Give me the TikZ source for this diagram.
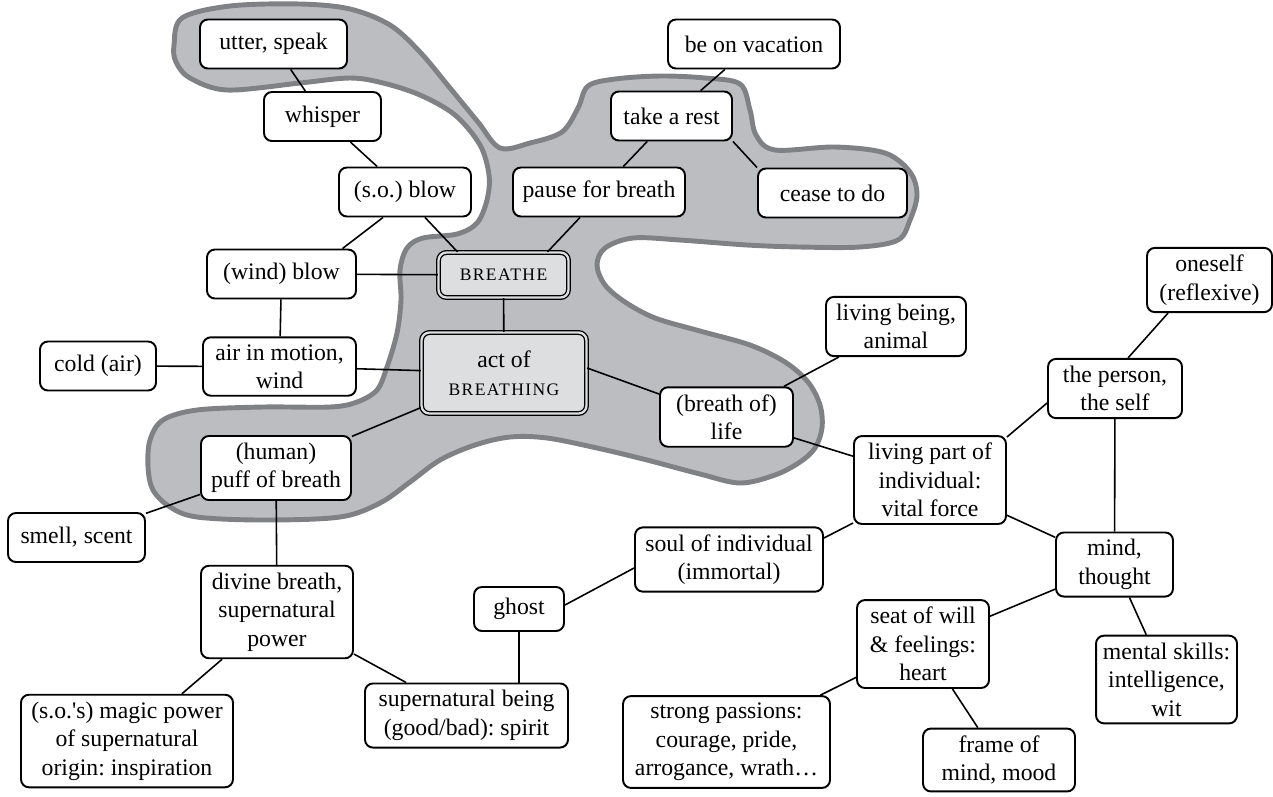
\documentclass[tikz,border=0pt]{standalone}
\usepackage{fontspec}
\setmainfont{Liberation Serif}
\usetikzlibrary{calc}
\definecolor{blobfill}{RGB}{188,189,193}
\definecolor{blobline}{RGB}{128,129,132}
\definecolor{corefill}{RGB}{221,222,224}
\newcommand\hw[1]{{\fontsize{10}{16}\selectfont\addfontfeature{LetterSpace=8}#1}}
\frenchspacing

\begin{document}
\begin{tikzpicture}[x=0.02cm, y=-0.02cm,
    font=\fontsize{13.5}{16.2}\selectfont,
    sense/.style={draw, fill=white, rounded corners=4.5pt, line width=1.1pt,
      align=center, inner xsep=3pt, inner ysep=4pt, minimum height=0.98cm},
    core/.style={sense, fill=corefill, line width=0.75pt, double=corefill,
      double distance=1.3pt, minimum height=0.9cm},
    link/.style={line width=0.9pt}]
      \useasboundingbox (0,0) rectangle (1273,796);

      \draw [blobline, fill=blobfill, line width=2.8pt] plot [smooth cycle, tension=0.55] coordinates {
        (174,45) (182,18) (230,6) (300,4) (350,9) (390,25) (420,52) (450,88)
        (478,122) (500,148) (530,143) (562,132) (578,108) (588,86) (615,79)
        (660,76) (705,78) (740,84) (750,110) (756,135) (775,150) (835,147)
        (885,153) (910,172) (917,195) (910,220) (898,240) (860,247) (800,247)
        (747,245) (680,240) (633,238) (605,248) (597,265) (605,285) (625,302)
        (655,318) (700,331) (750,345) (785,362) (808,382) (820,405) (822,428)
        (815,448) (800,462) (775,475) (740,483) (700,474) (647,460) (597,448)
        (547,438) (510,437) (475,445) (440,460) (410,482) (380,503) (340,517)
        (263,520) (197,517) (170,507) (153,490) (148,467) (150,440) (163,420)
        (197,410) (263,407) (330,407) (357,402) (377,390) (387,367) (397,333)
        (401,300) (400,270) (407,248) (423,238) (457,234) (477,223) (487,200)
        (489,175) (480,145) (455,115) (420,95) (383,83) (350,78) (300,83)
        (227,90) (190,78) (176,62)};

      \node [sense, minimum width=2.94cm] (utter) at (273.5,44) {utter, speak};
      \node [sense, minimum width=2.34cm] (whisper) at (322.5,116.5) {whisper};
      \node [sense, minimum width=2.64cm] (soblow) at (405,192) {(s.o.) blow};
      \node [sense, minimum width=2.98cm] (windblow) at (281.5,274) {(wind) blow};
      \node [core, minimum width=2.6cm] (breathe) at (503.5,275) {\hw{BREATHE}};
      \node [sense, minimum width=3.44cm] (pause) at (599,192) {pause for breath};
      \node [sense, minimum width=2.42cm] (rest) at (671.5,116) {take a rest};
      \node [sense, minimum width=3.44cm] (vacation) at (754,44) {be on vacation};
      \node [sense, minimum width=2.98cm] (cease) at (832.5,193) {cease to do};
      \node [core, minimum width=3.3cm, minimum height=1.62cm] (act) at (504,373) {act of\\\hw{BREATHING}};
      \node [sense, minimum width=3.06cm] (air) at (279.5,366.5) {air in motion,\\wind};
      \node [sense, minimum width=2.32cm] (cold) at (98,366) {cold (air)};
      \node [sense, minimum width=3.0cm] (puff) at (276,468) {(human)\\puff of breath};
      \node [sense, minimum width=2.74cm] (smell) at (76.5,537.5) {smell, scent};
      \node [sense, minimum width=3.04cm] (divine) at (277,612) {divine breath,\\supernatural\\power};
      \node [sense, minimum width=4.24cm] (magic) at (127,741) {(s.o.\textquotesingle s) magic power\\of supernatural\\origin: inspiration};
      \node [sense, minimum width=4.06cm] (superbeing) at (466.5,715.5) {supernatural being\\(good/bad): spirit};
      \node [sense, minimum width=1.8cm, minimum height=0.88cm] (ghost) at (519,609) {ghost};
      \node [sense, minimum width=3.76cm] (soul) at (729,559.5) {soul of individual\\(immortal)};
      \node [sense, minimum width=2.66cm] (life) at (726.5,417) {(breath of)\\life};
      \node [sense, minimum width=2.8cm] (livingbeing) at (896,326.5) {living being,\\animal};
      \node [sense, minimum width=3.04cm] (livingpart) at (930,480) {living part of\\individual:\\vital force};
      \node [sense, minimum width=2.68cm] (person) at (1115,388.5) {the person,\\the self};
      \node [sense, minimum width=2.5cm] (oneself) at (1209.5,280) {oneself\\(reflexive)};
      \node [sense, minimum width=2.34cm] (mind) at (1114.5,564.5) {mind,\\thought};
      \node [sense, minimum width=2.64cm] (seat) at (923,644) {seat of will\\\& feelings:\\heart};
      \node [sense, minimum width=2.82cm] (mental) at (1166.5,679.5) {mental skills:\\intelligence,\\wit};
      \node [sense, minimum width=4.14cm] (passions) at (726.5,742) {strong passions:\\courage, pride,\\arrogance, wrath…};
      \node [sense, minimum width=3.04cm] (frame) at (999,760) {frame of\\mind, mood};

      \draw [link] (utter) -- (whisper);
      \draw [link] (whisper) -- (soblow);
      \draw [link] ($(soblow.south)+(-22,0)$) -- ($(windblow.north)+(61,0)$);
      \draw [link] ($(soblow.south)+(20,0)$) -- ($(breathe.north)+(-46,0)$);
      \draw [link] ($(pause.south)+(-19,0)$) -- ($(breathe.north)+(44,0)$);
      \draw [link] (rest) -- (pause);
      \draw [link] (rest) -- (vacation);
      \draw [link] (rest.south east) -- (cease.north west);
      \draw [link] (windblow) -- (breathe);
      \draw [link] (windblow) -- (air);
      \draw [link] (cold) -- (air);
      \draw [link] (air) -- (act);
      \draw [link] (breathe) -- (act);
      \draw [link] (act) -- (puff);
      \draw [link] ($(act.east)+(0,-5)$) -- ($(life.west)+(0,-23)$);
      \draw [link] (life) -- (livingbeing);
      \draw [link] (life) -- (livingpart);
      \draw [link] ($(livingpart.east)+(0,-43)$) -- ($(person.west)+(0,14.5)$);
      \draw [link] ($(person.north)+(13,0)$) -- ($(oneself.south)+(-41.5,0)$);
      \draw [link] (person) -- (mind);
      \draw [link] (livingpart) -- (mind);
      \draw [link] ($(livingpart.west)+(0,43)$) -- ($(soul.east)+(0,-21.5)$);
      \draw [link] ($(soul.west)+(0,8.5)$) -- ($(ghost.east)+(0,-4)$);
      \draw [link] (ghost.south) -- (ghost.south |- superbeing.north);
      \draw [link] (puff) -- (divine);
      \draw [link] (puff) -- (smell);
      \draw [link] (divine) -- (magic);
      \draw [link] (divine) -- (superbeing);
      \draw [link] (mind) -- (seat);
      \draw [link] (mind) -- (mental);
      \draw [link] (seat) -- (passions);
      \draw [link] (seat) -- (frame);
    \end{tikzpicture}
\end{document}
